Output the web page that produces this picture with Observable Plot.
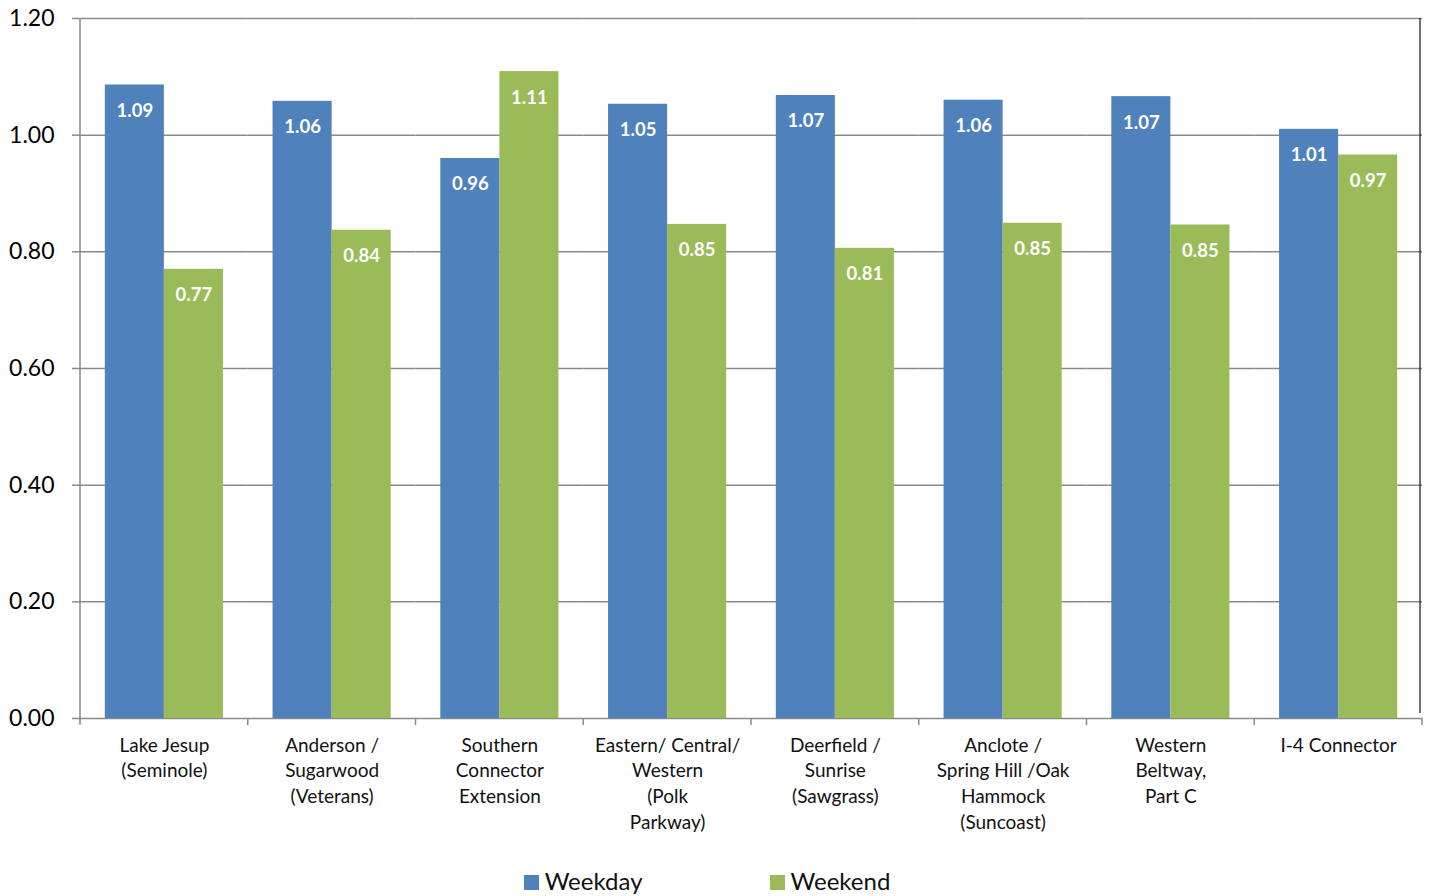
<!DOCTYPE html>
<html><head><meta charset="utf-8">
<script src="https://cdn.jsdelivr.net/npm/d3@7"></script>
<script src="https://cdn.jsdelivr.net/npm/@observablehq/plot@0.6"></script>
<style>
body{margin:0;background:#fff;font-family:Lato,"Open Sans",sans-serif;}
#legend{display:flex;justify-content:center;align-items:center;gap:127px;height:46px;padding-top:7px;padding-right:16px;font-size:24px;color:#111;}
#legend .item{display:flex;align-items:center;gap:6px;}
#legend .sw{width:15px;height:15px;display:inline-block;margin-top:4px;}
</style></head><body><div id="chart"></div><div id="legend"></div>
<script>
const categories = ["Lake Jesup","Anderson","Southern","Eastern","Deerfield","Anclote","Western","I-4"];
const categoryLabels = [
  "Lake Jesup\n(Seminole)",
  "Anderson /\nSugarwood\n(Veterans)",
  "Southern\nConnector\nExtension",
  "Eastern/ Central/\nWestern\n(Polk\nParkway)",
  "Deerfield /\nSunrise\n(Sawgrass)",
  "Anclote /\nSpring Hill /Oak\nHammock\n(Suncoast)",
  "Western\nBeltway,\nPart C",
  "I-4 Connector"
];
const series = ["Weekday","Weekend"];
const weekday = [1.086,1.058,0.960,1.053,1.068,1.060,1.066,1.010];
const weekend = [0.770,0.837,1.109,0.847,0.806,0.849,0.846,0.966];
const yTicks = [0,0.2,0.4,0.6,0.8,1.0,1.2];
const colors = ["#4F81BD","#9BBB59"];

const data = categories.flatMap((c,i)=>[
  {cat:c, series:series[0], value:weekday[i]},
  {cat:c, series:series[1], value:weekend[i]}
]);
const labelOf = new Map(categories.map((c,i)=>[c,categoryLabels[i]]));
const fmt = d3.format(".2f");

const plot = Plot.plot({
  width:1430, height:850,
  marginLeft:80, marginRight:8, marginTop:18, marginBottom:132,
  style:{fontFamily:"Lato, 'Open Sans', sans-serif", background:"white", overflow:"visible"},
  fx:{domain:categories, padding:0, round:false, label:null},
  x:{domain:series, paddingInner:0, paddingOuter:0.42, round:false, axis:null},
  y:{domain:[0,1.2], axis:null},
  color:{domain:series, range:colors},
  marks:[
    Plot.ruleY(yTicks,{stroke:"#8a8a8a", strokeWidth:1.5}),
    Plot.barY(data,{fx:"cat", x:"series", y:"value", fill:"series"}),
    Plot.text(data,{fx:"cat", x:"series", y:"value", text:d=>fmt(d.value), fill:"white", fontWeight:"bold", fontSize:18.5, dy:26, lineAnchor:"middle"}),
    Plot.axisY({ticks:yTicks, tickFormat:".2f", tickSize:8, tickPadding:18, fontSize:23, stroke:"#8a8a8a", strokeWidth:1.5, fill:"black", label:null}),
    Plot.axisFx({anchor:"bottom", tickSize:0, tickPadding:15, tickFormat:c=>labelOf.get(c), fontSize:19, lineHeight:1.35, fill:"#111", label:null})
  ]
});
document.getElementById("chart").appendChild(plot);

// axis line and category boundary ticks from the library's scales
const fx = plot.scale("fx"), y = plot.scale("y");
const svg = d3.select(plot);
const bounds = categories.map(c=>fx.apply(c)).concat([fx.apply(categories[categories.length-1]) + fx.bandwidth]);
const y0 = y.apply(0), yTop = y.apply(1.2);
const g = svg.append("g");
g.selectAll("line.b").data(bounds).join("line")
  .attr("x1",d=>d).attr("x2",d=>d).attr("y1",y0).attr("y2",y0+7)
  .attr("stroke","#8a8a8a").attr("stroke-width",1.5);
g.append("line").attr("x1",bounds[0]).attr("x2",bounds[0]).attr("y1",yTop).attr("y2",y0)
  .attr("stroke","#8a8a8a").attr("stroke-width",1.5);
g.append("line").attr("x1",bounds[bounds.length-1]-2).attr("x2",bounds[bounds.length-1]-2).attr("y1",yTop).attr("y2",y0-5)
  .attr("stroke","#111").attr("stroke-width",1.2);

// legend
const legend = d3.select("#legend");
series.forEach((s,i)=>{
  const it = legend.append("div").attr("class","item");
  it.append("span").attr("class","sw").style("background",colors[i]);
  it.append("span").text(s);
});
</script></body></html>
